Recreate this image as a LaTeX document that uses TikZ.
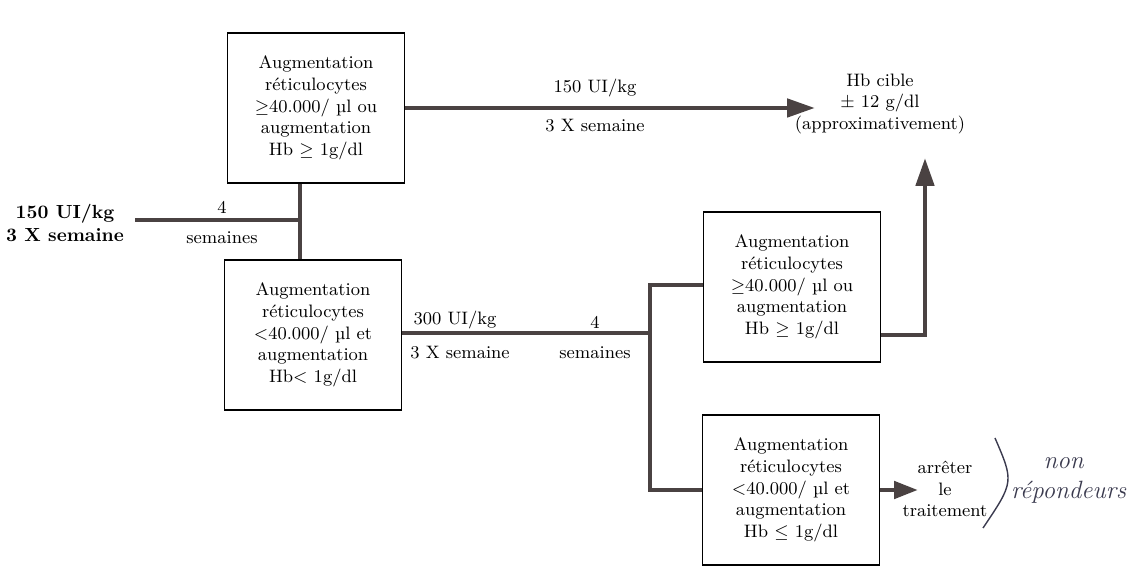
\documentclass[tikz,border=0pt]{standalone}
\usetikzlibrary{arrows.meta,positioning,calc}
\definecolor{inkline}{HTML}{4A4242}
\definecolor{penink}{HTML}{3A3A4E}
\begin{document}
\begin{tikzpicture}[x=0.5pt,y=-0.5pt,
    critbox/.style={draw,line width=0.6pt,minimum width=88.5pt,minimum height=75pt,
      align=center,inner sep=0pt,font=\fontsize{9}{10.8}\selectfont},
    flow/.style={draw=inkline,line width=2.4pt},
    flowarrow/.style={flow,-{Triangle[length=14pt,width=9pt]}},
    lbl/.style={font=\fontsize{9}{10.8}\selectfont,align=center,inner sep=1pt}]
    \useasboundingbox (0,0) rectangle (1148,571);

    % the four boxes
    \node[critbox] (upA) at (316,108) {Augmentation\\réticulocytes\\$\geq$40.000/ µl ou\\augmentation\\Hb $\geq$ 1g/dl};
    \node[critbox] (lowA) at (313,335) {Augmentation\\réticulocytes\\<40.000/ µl et\\augmentation\\Hb< 1g/dl};
    \node[critbox] (upB) at (792,287) {Augmentation\\réticulocytes\\$\geq$40.000/ µl ou\\augmentation\\Hb $\geq$ 1g/dl};
    \node[critbox] (lowB) at (791,490) {Augmentation\\réticulocytes\\<40.000/ µl et\\augmentation\\Hb $\leq$ 1g/dl};

    % start dose
    \node[lbl,font=\fontsize{9.5}{11.5}\selectfont\bfseries] (dose) at (65,223) {150 UI/kg\\3 X semaine};
    \coordinate (inStart) at (135,220);
    \coordinate (j1) at (300,220);
    \draw[flow] (inStart) -- (j1);
    \draw[flow] (upA.south -| j1) -- (lowA.north -| j1);
    \node[lbl] at (222,207) {4};
    \node[lbl] at (222,238) {semaines};

    % responders
    \coordinate (target) at (815,108);
    \draw[flowarrow] (upA.east) -- (target);
    \node[lbl] at (595,88) {150 UI/kg};
    \node[lbl] at (595,126) {3 X semaine};
    \node[lbl] (tgt) at (880,104) {Hb cible\\$\pm$ 12 g/dl\\(approximativement)};

    % non responders
    \coordinate (j2) at (650,333);
    \coordinate (j3) at (650,285);
    \coordinate (j4) at (650,490);
    \draw[flow] (lowA.east |- j2) -- (j2);
    \draw[flow] (upB.west |- j3) -| (j4) -- (lowB.west |- j4);
    \node[lbl] at (455,320) {300 UI/kg};
    \node[lbl] at (460,353) {3 X semaine};
    \node[lbl] at (595,322) {4};
    \node[lbl] at (595,353) {semaines};

    \coordinate (hbUp) at (925,158);
    \draw[flowarrow] (upB.east |- 0,335) -| (hbUp);

    \coordinate (stopTip) at (918,490);
    \draw[flowarrow,-{Triangle[length=12pt,width=8.5pt]}] (lowB.east) -- (stopTip);
    \node[lbl] (stop) at (945,489) {arrêter\\le\\traitement};

    % hand-written note
    \draw[penink,line width=0.7pt] (995,438) .. controls (1014,482) .. (983,528);
    \node[penink,font=\fontsize{12.5}{15}\selectfont\itshape,align=left,anchor=west] (note) at (1004,480) {\hspace*{1.3em}non\\répondeurs};
\end{tikzpicture}
\end{document}
